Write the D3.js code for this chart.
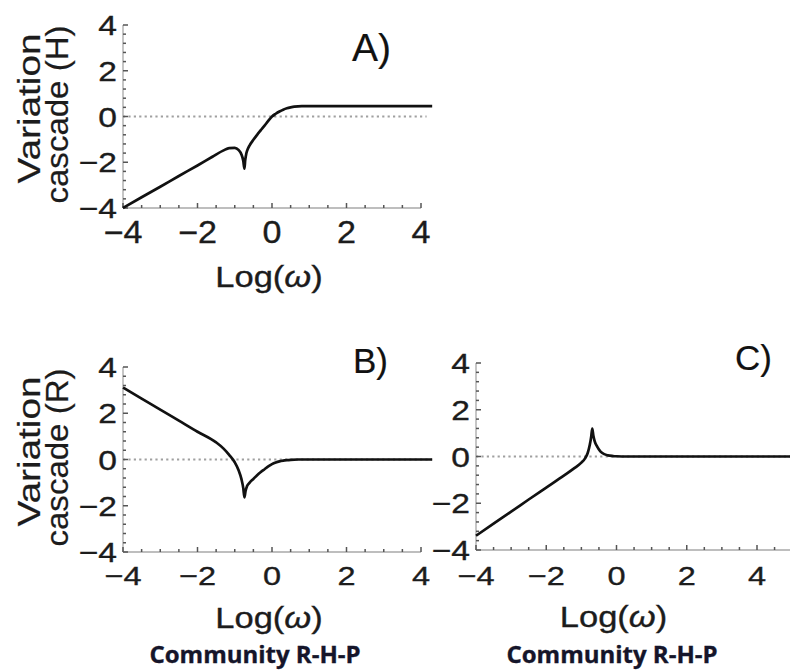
<!DOCTYPE html>
<html>
<head>
<meta charset="utf-8">
<script src="https://cdn.jsdelivr.net/npm/d3@7"></script>
<style>
  html, body { margin: 0; padding: 0; background: #fff; }
  svg { display: block; }
</style>
</head>
<body>
<svg id="chart" width="790" height="671"></svg>
<script>
// ---------------- DATA ----------------
const xTickValues = [-4, -2, 0, 2, 4];
const yTickValues = [-4, -2, 0, 2, 4];
const xTickLabels = ["\u22124", "\u22122", "0", "2", "4"];
const yTickLabels = ["\u22124", "\u22122", "0", "2", "4"];

const panelLetters = ["A)", "B)", "C)"];
const yTitlesA = ["Variation", "cascade (H)"];
const yTitlesB = ["Variation", "cascade (R)"];
const xTitleParts = ["Log(", "\u03c9", ")"];
const captionText = "Community R-H-P";

// Panel A: variation cascade (H)
const xA = [-4, -3.5, -3, -2.5, -2, -1.6, -1.3, -1.15, -1.0, -0.9, -0.82, -0.77, -0.74,
            -0.72, -0.69, -0.65, -0.6, -0.5, -0.4, -0.3, -0.2, -0.1, 0, 0.1, 0.2, 0.3,
            0.4, 0.5, 0.6, 0.8, 1.0, 2, 3, 4, 4.3];
const yA = [-4, -3.53, -3.07, -2.6, -2.14, -1.76, -1.48, -1.38, -1.37, -1.46, -1.66, -1.95, -2.28,
            -1.92, -1.62, -1.42, -1.26, -1.02, -0.8, -0.6, -0.4, -0.19, 0, 0.12, 0.22, 0.3,
            0.36, 0.4, 0.43, 0.45, 0.45, 0.45, 0.45, 0.45, 0.45];

// Panel B: variation cascade (R)
const xB = [-4, -3.5, -3, -2.5, -2, -1.5, -1.3, -1.15, -1.0, -0.9, -0.82, -0.77, -0.74,
            -0.71, -0.67, -0.6, -0.5, -0.4, -0.3, -0.2, -0.1, 0, 0.1, 0.2, 0.3, 0.4,
            0.5, 0.7, 1, 2, 3, 4, 4.3];
const yB = [3.11, 2.63, 2.16, 1.68, 1.2, 0.74, 0.47, 0.2, -0.12, -0.45, -0.85, -1.25, -1.64,
            -1.36, -1.15, -1.0, -0.84, -0.68, -0.54, -0.42, -0.3, -0.2, -0.13, -0.08, -0.05, -0.03,
            -0.015, 0, 0, 0, 0, 0, 0];

// Panel C
const xC = [-4, -3.5, -3, -2.5, -2, -1.5, -1.2, -1.0, -0.9, -0.82, -0.76, -0.72, -0.69,
            -0.66, -0.62, -0.55, -0.46, -0.35, -0.25, -0.1, 0, 0.3, 1, 2, 3, 4, 5];
const yC = [-3.39, -2.87, -2.36, -1.84, -1.33, -0.82, -0.5, -0.26, -0.09, 0.15, 0.5, 0.85, 1.19,
            0.9, 0.65, 0.42, 0.22, 0.1, 0.05, 0.02, 0.01, 0, 0, 0, 0, 0, 0];

// ---------------- LAYOUT ----------------
const svg = d3.select("#chart");
svg.append("rect").attr("width", 790).attr("height", 671).attr("fill", "#fff");

const FONT = "'Liberation Sans', Arial, Helvetica, sans-serif";

function addText(g, str, x, y, o) {
  o = Object.assign({size: 28, anchor: "start", sx: 1, sy: 1, rot: 0, fill: "#1c1c1c",
                     family: FONT, weight: "normal"}, o || {});
  const t = g.append("text")
    .attr("transform", `translate(${x},${y}) rotate(${o.rot}) scale(${o.sx},${o.sy})`)
    .attr("text-anchor", o.anchor)
    .attr("font-family", o.family)
    .attr("font-size", o.size)
    .attr("font-weight", o.weight)
    .attr("fill", o.fill)
    .attr("stroke", o.fill)
    .attr("stroke-width", o.sw || 0.35);
  if (Array.isArray(str)) {
    str.forEach((s, i) => t.append("tspan").attr("font-style", i === 1 ? "italic" : "normal").text(s));
  } else {
    t.text(str);
  }
  if (o.len) t.attr("textLength", o.len).attr("lengthAdjust", "spacingAndGlyphs");
  return t;
}

const panels = [
  { xs: xA, ys: yA, xr: [123, 421], yr: [208, 25], axisXMax: 4, zeroEnd: 4.15,
    letter: panelLetters[0], letterPos: [352, 61], letterSize: 39,
    yTitle: yTitlesA, xLabSize: 31, xLabSx: 1.1, xLabBase: 243, titleBase: 287, caption: null },
  { xs: xB, ys: yB, xr: [123, 421], yr: [552, 367], axisXMax: 4, zeroEnd: 4.3,
    letter: panelLetters[1], letterPos: [353, 373], letterSize: 35,
    yTitle: yTitlesB, xLabSize: 26, xLabSx: 1.25, xLabBase: 585, titleBase: 628, caption: 255 },
  { xs: xC, ys: yC, xr: [476, 757], yr: [550, 363], axisXMax: 5, zeroEnd: 5,
    letter: panelLetters[2], letterPos: [735, 370], letterSize: 35,
    yTitle: null, xLabSize: 26, xLabSx: 1.25, xLabBase: 585, titleBase: 627, caption: 612 }
];

panels.forEach(p => {
  const g = svg.append("g");
  const x = d3.scaleLinear().domain([-4, 4]).range(p.xr);
  const y = d3.scaleLinear().domain([-4, 4]).range(p.yr);

  // zero reference line (dotted)
  g.append("line")
    .attr("x1", x(-4)).attr("x2", x(p.zeroEnd))
    .attr("y1", y(0)).attr("y2", y(0))
    .attr("stroke", "#a0a0a0").attr("stroke-width", 2.2)
    .attr("stroke-dasharray", "2.2,3.2");

  // axes lines
  g.append("line")
    .attr("x1", x(-4)).attr("x2", x(p.axisXMax))
    .attr("y1", y(-4)).attr("y2", y(-4))
    .attr("stroke", "#a8a8a8").attr("stroke-width", 1.3);
  g.append("line")
    .attr("x1", x(-4)).attr("x2", x(-4))
    .attr("y1", y(-4)).attr("y2", y(4))
    .attr("stroke", "#a8a8a8").attr("stroke-width", 1.3);

  // x ticks (minor every 0.5, major every 2), pointing inward
  const xt = d3.range(-4, p.axisXMax + 0.001, 0.5);
  g.selectAll(null).data(xt).join("line")
    .attr("x1", d => x(d)).attr("x2", d => x(d))
    .attr("y1", y(-4)).attr("y2", d => y(-4) - (Math.abs(d % 2) < 1e-6 ? 5 : 3))
    .attr("stroke", "#555").attr("stroke-width", 1.5);
  // y ticks (minor every 0.4, major every 2)
  const yt = d3.range(-4, 4.001, 0.4);
  g.selectAll(null).data(yt).join("line")
    .attr("y1", d => y(d)).attr("y2", d => y(d))
    .attr("x1", x(-4)).attr("x2", d => x(-4) + (Math.abs(Math.round(d * 10) % 20) === 0 ? 5 : 3))
    .attr("stroke", "#555").attr("stroke-width", 1.5);

  // tick labels
  xTickValues.forEach((v, i) => {
    addText(g, xTickLabels[i], x(v), p.xLabBase, {size: p.xLabSize, anchor: "middle", sx: p.xLabSx});
  });
  yTickValues.forEach((v, i) => {
    addText(g, yTickLabels[i], x(-4) - 6, y(v) + 10, {size: 28, anchor: "end", sx: 1.2});
  });

  // curve
  const pts = p.xs.map((d, i) => [d, p.ys[i]]);
  g.append("path")
    .datum(pts)
    .attr("fill", "none")
    .attr("stroke", "#111")
    .attr("stroke-width", 2.7)
    .attr("stroke-linejoin", "round")
    .attr("d", d3.line().x(d => x(d[0])).y(d => y(d[1])).curve(d3.curveMonotoneX));

  // x-axis title
  addText(g, xTitleParts, x(0) - 3, p.titleBase, {size: 30, anchor: "middle", sx: 1.15});

  // y title
  if (p.yTitle) {
    const cy = (p.yr[0] + p.yr[1]) / 2;
    addText(g, p.yTitle[0], 40, cy - 8, {size: 31, anchor: "middle", rot: -90, len: 150, sw: 0.2});
    addText(g, p.yTitle[1], 68, cy - 2, {size: 31, anchor: "middle", rot: -90, len: 178, sw: 0.2});
  }

  // panel letter
  addText(g, p.letter, p.letterPos[0], p.letterPos[1], {size: p.letterSize, fill: "#111", sw: 0.2});

  // caption
  if (p.caption !== null) {
    addText(g, captionText, p.caption, 663,
      {size: 24, anchor: "middle", weight: "bold", fill: "#15152a", sw: 0,
       family: "'Open Sans', 'Noto Sans', sans-serif"});
  }
});
</script>
</body>
</html>
